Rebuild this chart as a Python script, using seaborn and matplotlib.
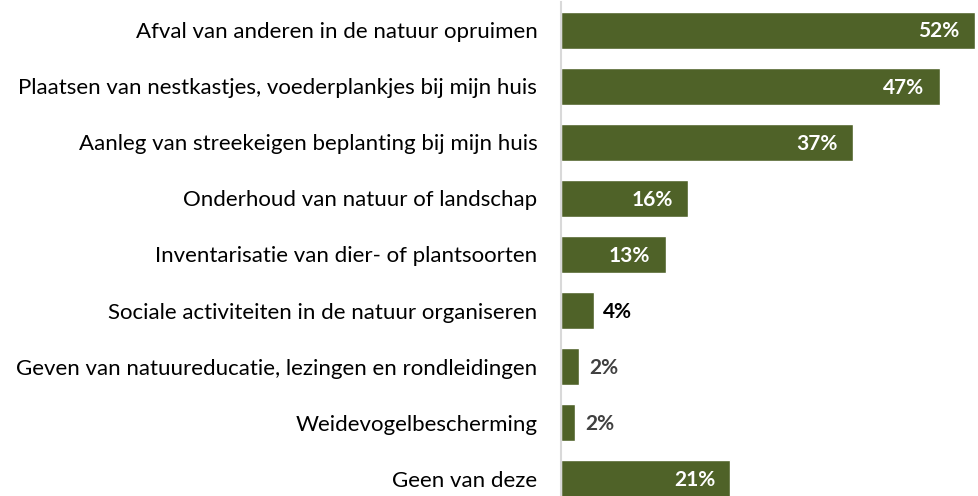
import matplotlib
matplotlib.use("Agg")
import matplotlib.pyplot as plt
import seaborn as sns
import pandas as pd

categories = [
    "Afval van anderen in de natuur opruimen",
    "Plaatsen van nestkastjes, voederplankjes bij mijn huis",
    "Aanleg van streekeigen beplanting bij mijn huis",
    "Onderhoud van natuur of landschap",
    "Inventarisatie van dier- of plantsoorten",
    "Sociale activiteiten in de natuur organiseren",
    "Geven van natuureducatie, lezingen en rondleidingen",
    "Weidevogelbescherming",
    "Geen van deze",
]
values = [51.8, 47.4, 36.5, 15.9, 13.1, 4.1, 2.3, 1.8, 21.2]
labels = ["52%", "47%", "37%", "16%", "13%", "4%", "2%", "2%", "21%"]
# label placement: inside bar (white) or outside (dark)
inside = [True, True, True, True, True, False, False, False, True]
outside_colors = {5: "#000000", 6: "#404040", 7: "#404040"}

bar_color = "#4F6228"

sns.set_style("white")
plt.rcParams["font.family"] = ["Lato", "DejaVu Sans"]

df = pd.DataFrame({"cat": categories, "val": values})

fig = plt.figure(figsize=(9.79, 4.96), dpi=100)
ax = fig.add_axes([0.573, -0.022, 0.427, 1.018])

sns.barplot(data=df, y="cat", x="val", orient="h", color=bar_color,
            saturation=1, width=0.66, ax=ax)

ax.set_xlim(0, 52.3)
ax.set_xlabel("")
ax.set_ylabel("")
ax.set_xticks([])
for s in ["top", "right", "bottom"]:
    ax.spines[s].set_visible(False)
ax.spines["left"].set_color("#D9D9D9")
ax.spines["left"].set_linewidth(1.5)
ax.tick_params(axis="y", length=0, pad=17, labelsize=16, labelcolor="#000000")

for i, (v, lab) in enumerate(zip(values, labels)):
    if inside[i]:
        ax.annotate(lab, (v, i), xytext=(-11, -1), textcoords="offset points",
                    ha="right", va="center", color="white", fontsize=15,
                    fontweight="bold")
    else:
        ax.annotate(lab, (v, i), xytext=(7, -1), textcoords="offset points",
                    ha="left", va="center", color=outside_colors[i],
                    fontsize=15, fontweight="bold")

fig.savefig("out.png", dpi=100)
